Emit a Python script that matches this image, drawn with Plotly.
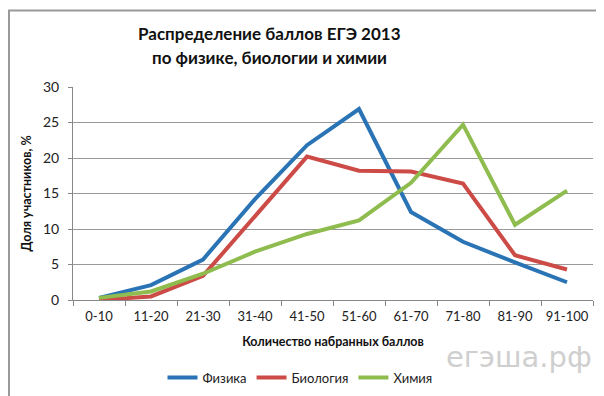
import plotly.graph_objects as go

categories = ["0-10", "11-20", "21-30", "31-40", "41-50", "51-60", "61-70", "71-80", "81-90", "91-100"]
physics = [0.3, 2.1, 5.7, 14.2, 21.8, 26.9, 12.4, 8.2, 5.3, 2.5]
biology = [0.0, 0.5, 3.4, 11.9, 20.2, 18.2, 18.1, 16.4, 6.3, 4.3]
chemistry = [0.3, 1.2, 3.7, 6.8, 9.3, 11.2, 16.5, 24.7, 10.6, 15.4]
yticks = [0, 5, 10, 15, 20, 25, 30]

FONT = "Lato"
W, H = 604, 396
L, R, T, B = 65, 19, 79, 100

fig = go.Figure()
for name, vals, col in [("Физика", physics, "#2a74b5"),
                        ("Биология", biology, "#cc4b47"),
                        ("Химия", chemistry, "#8fbc4e")]:
    fig.add_trace(go.Scatter(x=categories, y=vals, name=name, mode="lines",
                             line=dict(color=col, width=4)))

pw = W - L - R
ph = H - T - B
def px(x):
    return (x - L) / pw
def py(y):
    return (H - B - y) / ph

fig.update_layout(
    width=W, height=H,
    margin=dict(l=L, r=R, t=T, b=B),
    paper_bgcolor="white", plot_bgcolor="white",
    font=dict(family=FONT, size=13, color="#222"),
    xaxis=dict(type="category", range=[-0.5, len(categories) - 0.5],
               tickson="boundaries", ticks="outside", ticklen=5,
               tickcolor="#888", showline=True, linecolor="#888", linewidth=1,
               showgrid=False, tickfont=dict(size=13, color="#222"),
               ticklabelstandoff=4,
               title=dict(text="<b>Количество набранных баллов</b>", standoff=14,
                          font=dict(size=12.5, color="#111"))),
    yaxis=dict(range=[0, 30], tickvals=yticks, showline=True, linecolor="#888",
               ticks="outside", ticklen=4, tickcolor="#888",
               gridcolor="#999", gridwidth=1, zeroline=False,
               tickfont=dict(size=14, color="#222"), ticklabelstandoff=6,
               title=dict(text="<b>Доля участников, %</b>", standoff=8,
                          font=dict(size=12.5, color="#111"))),
    legend=dict(orientation="h", x=px(292), xanchor="center", y=py(375), yanchor="middle",
                font=dict(size=13, color="#222"), itemwidth=30, tracegroupgap=0),
    showlegend=True,
)

fig.add_annotation(text="<b>Распределение баллов ЕГЭ 2013</b>", xref="paper", yref="paper",
                   x=px(261), y=py(24), xanchor="center", yanchor="middle", showarrow=False,
                   font=dict(family=FONT, size=17, color="#111"))
fig.add_annotation(text="<b>по физике, биологии и химии</b>", xref="paper", yref="paper",
                   x=px(261), y=py(49), xanchor="center", yanchor="middle", showarrow=False,
                   font=dict(family=FONT, size=17, color="#111"))

fig.add_annotation(text="егэша.рф", xref="paper", yref="paper", x=px(586), y=py(354),
                   xanchor="right", yanchor="middle", showarrow=False,
                   font=dict(family="DejaVu Sans", size=29, color="#cfcfcf"))

fig.add_shape(type="rect", xref="paper", yref="paper",
              x0=px(1), x1=px(W - 1), y0=py(H - 1), y1=py(1),
              line=dict(color="#999", width=2), fillcolor="rgba(0,0,0,0)", layer="below")

fig.write_html("out.html")
